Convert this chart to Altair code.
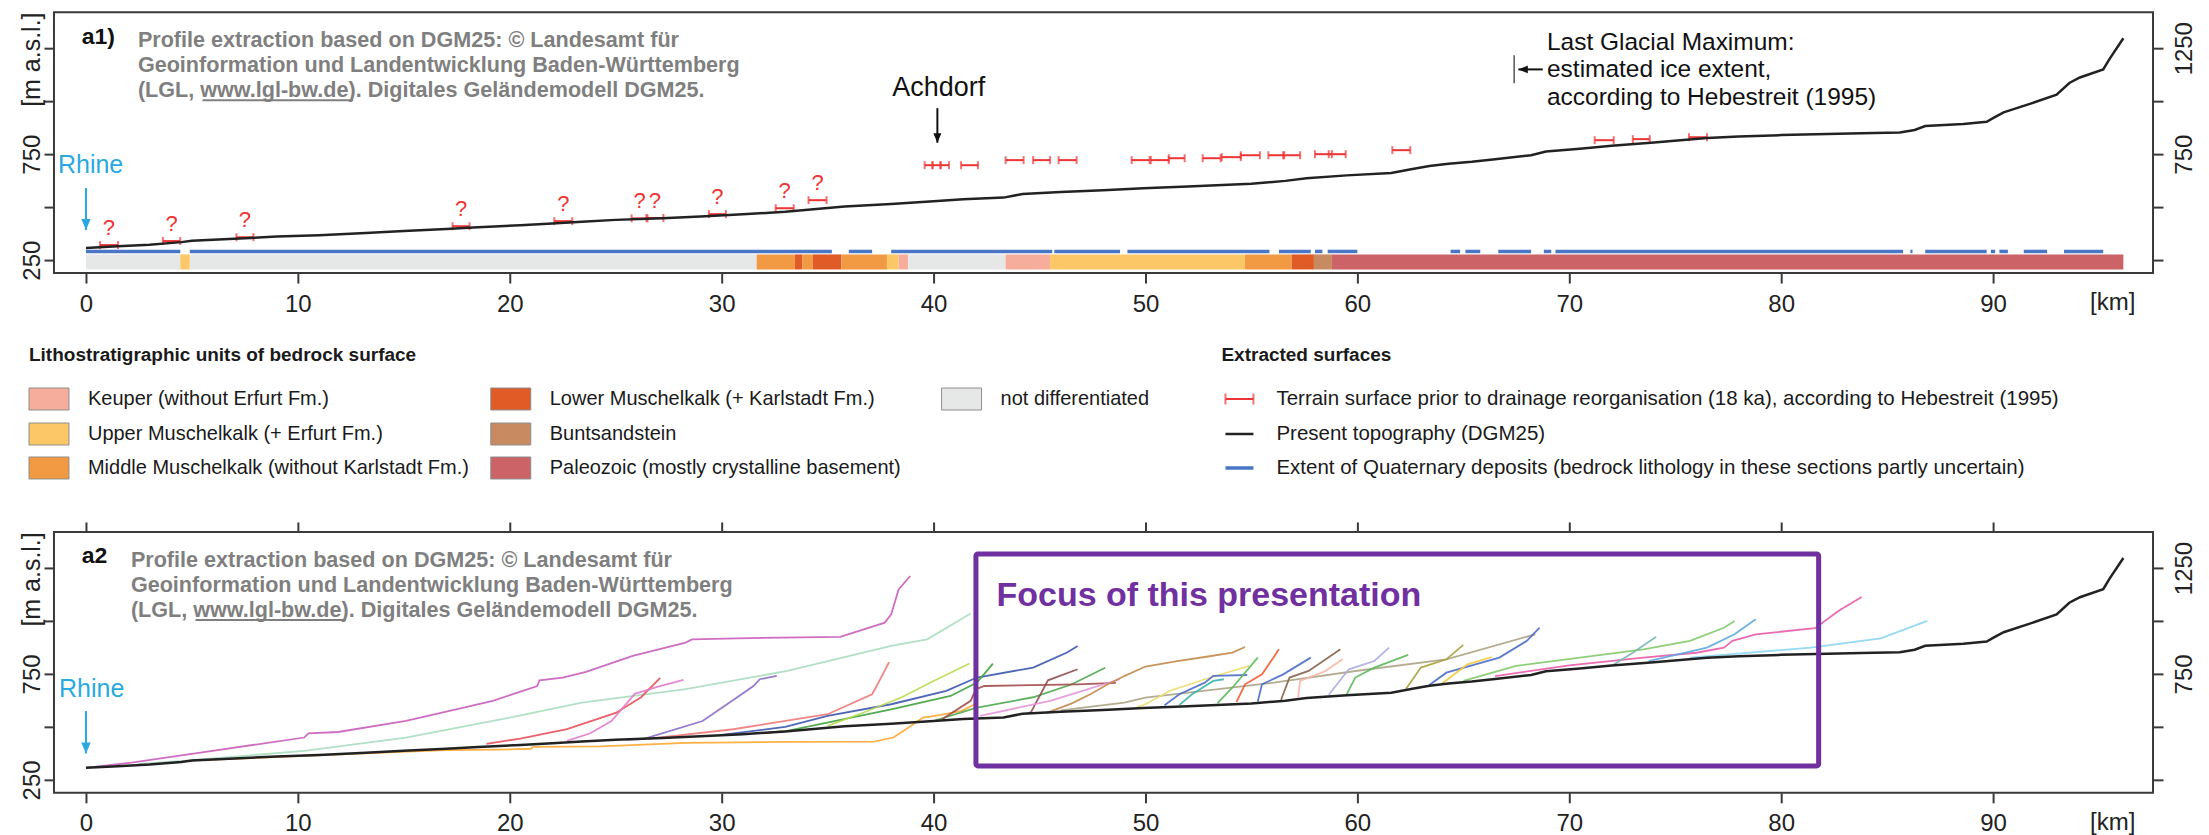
import altair as alt
import pandas as pd

FONT = "Liberation Sans, Arial, Helvetica, sans-serif"

# ------------------------------------------------------------------ data
# present topography (DGM25), distance from Rhine [km] / elevation [m a.s.l.]
topo_km = [0, 1.5, 3.0, 4.5, 5.0, 7.0, 9.0, 11.0, 13.2, 15.0, 17.0, 18.5, 20.5, 22.0, 23.4,
           25.0, 27.2, 29.0, 31.0, 33.0, 35.8, 38.0, 40.0, 41.4, 43.3, 44.2, 46.0, 48.0, 49.9,
           52.0, 55.0, 56.6, 57.6, 59.5, 61.6, 62.6, 63.4, 64.3, 65.4, 66.5, 68.2, 68.9, 70.5,
           72.0, 74.0, 76.5, 78.0, 80.0, 83.8, 85.6, 86.3, 86.8, 88.6, 89.7, 90.0, 90.5, 91.7,
           93.0, 93.6, 94.1, 95.2, 95.5, 96.15]
topo_m = [307, 315, 323, 335, 341, 351, 361, 368, 378, 387, 397, 405, 415, 423, 431,
          440, 448, 456, 466, 478, 503, 515, 528, 537, 545, 562, 572, 580, 589,
          598, 610, 624, 636, 650, 661, 680, 694, 705, 714, 726, 745, 763, 776,
          790, 805, 826, 833, 840, 849, 852, 864, 883, 892, 903, 920, 947, 986,
          1031, 1086, 1112, 1150, 1200, 1297]

litho_units = [
    "Keuper (without Erfurt Fm.)",
    "Upper Muschelkalk (+ Erfurt Fm.)",
    "Middle Muschelkalk (without Karlstadt Fm.)",
    "Lower Muschelkalk (+ Karlstadt Fm.)",
    "Buntsandstein",
    "Paleozoic (mostly crystalline basement)",
    "not differentiated",
]
litho_colors = ["#F6AD9B", "#FCC766", "#F29943", "#E05B26", "#C88A61", "#CC6367", "#E6E8E7"]

# bedrock surface units along the profile (index into litho_units)
band_start = [0, 4.45, 4.9, 31.65, 33.45, 33.8, 34.3, 35.65, 37.8, 38.35, 38.8, 43.4, 45.5,
              54.7, 56.9, 57.95, 58.8]
band_end = [4.45, 4.9, 31.65, 33.45, 33.8, 34.3, 35.65, 37.8, 38.35, 38.8, 43.4, 45.5, 54.7,
            56.9, 57.95, 58.8, 96.15]
band_unit = [6, 1, 6, 2, 3, 2, 3, 2, 1, 0, 6, 0, 1, 2, 3, 4, 5]

# extent of Quaternary deposits
quat_start = [0, 4.9, 36.0, 38.0, 45.7, 49.15, 56.3, 58.0, 58.6, 64.4, 65.1, 66.65, 68.8,
              69.35, 86.1, 86.8, 89.9, 90.3, 91.45, 93.35]
quat_end = [4.45, 35.2, 37.1, 45.6, 48.8, 55.85, 57.8, 58.35, 60.0, 64.85, 65.8, 68.2, 69.15,
            85.75, 86.2, 89.7, 90.1, 90.7, 92.55, 95.2]

# terrain surface prior to drainage reorganisation (18 ka), Hebestreit (1995)
terr_start = [0.66, 3.63, 7.1, 17.3, 22.1, 25.75, 26.45, 29.4, 32.55, 34.1, 39.58, 39.95,
              40.33, 41.3, 43.4, 44.7, 45.9, 49.35, 50.25, 51.1, 52.7, 53.6, 54.5, 55.8,
              56.5, 58.0, 58.65, 61.65, 71.2, 73.0, 75.65]
terr_end = [1.51, 4.45, 7.9, 18.1, 22.95, 26.5, 27.25, 30.2, 33.4, 34.95, 39.95, 40.33,
            40.73, 42.1, 44.25, 45.5, 46.75, 50.2, 51.1, 51.85, 53.55, 54.5, 55.4, 56.55,
            57.3, 58.8, 59.45, 62.5, 72.1, 73.8, 76.5]
terr_m = [321, 340, 358, 410, 434, 447, 449, 467, 495, 533, 698, 698, 698, 698, 722, 722,
          722, 722, 722, 731, 731, 736, 745, 745, 745, 750, 750, 769, 816, 821, 830]
terr_uncertain = [True] * 10 + [False] * 21

# tributary valley profiles (panel a2)
trib_colors = ["#C95DBB", "#A9DDBF", "#E8505A", "#E27DCB", "#FFA733", "#8A6CC9", "#F07878",
               "#3B57AE", "#3FA23F", "#4FA84F", "#B9D954", "#A24A4A", "#8F4F4F", "#E393D9",
               "#C38A4B", "#ABA384", "#E9DE74", "#4D6BC9", "#3AB2AA", "#5BBA5B", "#F25C32",
               "#4D6BC9", "#85634A", "#F8B5A5", "#ABABE2", "#5BBA5B", "#A9A23A", "#4D6BC9",
               "#F1CA3C", "#83C96B", "#E85BAA", "#7BB6B6", "#5AA9E1", "#8AD5F1"]
trib_km = [
    [0, 2.15, 5.4, 10.3, 10.5, 11.9, 15.1, 16.8, 19.2, 21.3, 21.4, 22.5, 23.6, 25.8, 28.3,
     28.6, 30.7, 35.6, 37.7, 38.0, 38.35, 38.9],
    [2.5, 4.55, 10.3, 15.1, 20.0, 23.4, 28.3, 33.1, 38.0, 39.7, 41.75],
    [18.9, 20.5, 22.7, 25.0, 26.2, 27.1],
    [22.7, 23.8, 24.8, 25.9, 27.0, 28.2],
    [6.0, 10.0, 14.0, 17.0, 19.5, 21.0, 21.1, 24.3, 28.3, 33.0, 37.2, 38.1, 38.7, 39.5, 40.2,
     41.3, 41.95],
    [25.5, 26.3, 29.1, 30.7, 31.5, 31.8, 32.6],
    [26.5, 30.55, 35.0, 37.1, 37.4, 37.9],
    [30.0, 33.0, 35.0, 38.0, 40.6, 42.05, 44.7, 46.3, 46.8],
    [32.0, 33.1, 38.0, 40.8, 42.05, 42.8],
    [40.0, 42.0, 44.7, 46.5, 48.1],
    [35.0, 36.7, 38.5, 40.0, 41.7],
    [40.4, 41.75, 42.0, 42.4, 46.8, 48.6],
    [44.4, 44.6, 45.4, 46.8],
    [42.2, 45.5, 48.8],
    [45.3, 46.5, 47.4, 48.2, 49.0, 50.0, 51.5, 52.8, 54.1, 54.7],
    [46.0, 49.0, 50.0, 56.05, 60.0, 64.2, 68.4],
    [49.6, 50.0, 51.15, 52.8, 54.9],
    [50.9, 51.6, 52.8, 53.2, 54.8],
    [51.6, 52.2, 53.2, 53.7],
    [53.4, 54.1, 55.3],
    [54.3, 54.7, 55.5, 56.3],
    [55.3, 55.5, 56.5, 57.8],
    [56.4, 56.8, 57.7, 59.2],
    [57.2, 57.3, 58.5, 59.3],
    [58.65, 59.6, 60.8, 61.5],
    [59.5, 59.9, 60.8, 62.4],
    [62.3, 63.0, 64.2, 65.0],
    [63.4, 64.2, 66.7, 68.0, 68.6],
    [64.0, 65.2, 66.35],
    [65.0, 67.5, 73.5, 75.7, 77.3, 77.8],
    [66.5, 70.0, 73.5, 76.0, 77.3, 77.7, 78.8, 81.6, 82.7, 83.8],
    [72.1, 73.0, 74.1],
    [73.75, 76.5, 77.8, 78.8],
    [75.7, 81.4, 84.7, 86.9],
]
trib_m = [
    [307, 332, 379, 450, 470, 476, 528, 568, 623, 693, 720, 733, 760, 835, 898, 913, 918,
     925, 992, 1031, 1149, 1212],
    [325, 340, 387, 450, 544, 615, 678, 764, 882, 913, 1035],
    [420, 445, 490, 566, 640, 731],
    [434, 470, 528, 656, 690, 722],
    [346, 362, 379, 391, 393, 397, 406, 408, 425, 429, 431, 450, 489, 544, 555, 575, 607],
    [440, 442, 528, 638, 693, 725, 741],
    [444, 489, 560, 654, 709, 806],
    [462, 500, 552, 607, 670, 733, 780, 851, 882],
    [472, 481, 583, 646, 709, 799],
    [528, 590, 640, 700, 779],
    [505, 568, 640, 717, 799],
    [536, 623, 678, 693, 701, 708],
    [562, 570, 720, 772],
    [552, 623, 725],
    [565, 610, 654, 700, 740, 785, 810, 830, 851, 877],
    [578, 615, 638, 709, 765, 819, 937],
    [594, 607, 670, 725, 788],
    [602, 654, 709, 741, 745],
    [604, 654, 717, 725],
    [612, 685, 827],
    [618, 701, 748, 866],
    [620, 701, 748, 827],
    [628, 733, 764, 866],
    [640, 717, 764, 819],
    [652, 772, 811, 874],
    [655, 733, 780, 840],
    [680, 780, 819, 887],
    [698, 756, 827, 906, 968],
    [705, 795, 830],
    [717, 788, 866, 906, 968, 1000],
    [740, 790, 827, 850, 874, 906, 937, 966, 1047, 1113],
    [795, 850, 925],
    [811, 874, 937, 1008],
    [827, 874, 918, 1000],
]

credit_lines = ["Profile extraction based on DGM25: \u00a9 Landesamt f\u00fcr",
                "Geoinformation und Landentwicklung Baden-W\u00fcrttemberg",
                "(LGL, www.lgl-bw.de). Digitales Gel\u00e4ndemodell DGM25."]
lgm_lines = ["Last Glacial Maximum:", "estimated ice extent,", "according to Hebestreit (1995)"]
extracted_labels = [
    "Terrain surface prior to drainage reorganisation (18 ka), according to Hebestreit (1995)",
    "Present topography (DGM25)",
    "Extent of Quaternary deposits (bedrock lithology in these sections partly uncertain)",
]
x_ticks = list(range(0, 100, 10))
y_ticks = [250, 500, 750, 1000, 1250]

# ------------------------------------------------------------------ layout / style
PANEL_W, PANEL_H, LEG_H = 2100, 261, 259
X_DOM, Y_DOM = [-1.51, 97.55], [189, 1420]
BAND_LO, BAND_HI, QUAT_Y = 206, 277, 291
RED, BLUE, PURPLE, GREY, RHINE = "#EE3535", "#4A76C6", "#7030A0", "#7F7F7F", "#29A9E0"
FRAME = "#3a3a3a"
DOWN = "M-0.85,-1L0.85,-1L0,1Z"
LEFT = "M1,-0.8L1,0.8L-1,0Z"

xsc = alt.Scale(domain=X_DOM, nice=False, zero=False)
ysc = alt.Scale(domain=Y_DOM, nice=False, zero=False)


def qx(f, axis=None):
    return alt.X(f, type="quantitative", scale=xsc, axis=axis)


def qy(f, axis=None):
    return alt.Y(f, type="quantitative", scale=ysc, axis=axis)


AX = dict(grid=False, domain=False, tickSize=10, tickWidth=2, tickColor=FRAME,
          labelFont=FONT, labelFontSize=24, labelColor="#222222",
          labelOverlap=False, labelFlush=False)
x_bottom = alt.Axis(orient="bottom", values=x_ticks, format="d", title=None,
                    labelPadding=9, **AX)
x_top = alt.Axis(orient="top", values=x_ticks, labels=False, title=None, **AX)
y_left = alt.Axis(orient="left", values=y_ticks, format="d",
                  labelExpr="(datum.value == 250 || datum.value == 750) ? datum.label : ''",
                  labelAngle=270, labelAlign="center", labelBaseline="alphabetic",
                  labelPadding=4, title="[m a.s.l.]", titleAngle=270, titleX=-22, titleY=47,
                  titleAlign="center", titleBaseline="middle", titleFont=FONT,
                  titleFontSize=25, titleFontWeight="normal", titleColor="#222222", **AX)
y_right = alt.Axis(orient="right", values=y_ticks, format="d",
                   labelExpr="(datum.value == 750 || datum.value == 1250) ? datum.label : ''",
                   labelAngle=270, labelAlign="center", labelBaseline="top",
                   labelPadding=9, title=None, **AX)

# ------------------------------------------------------------------ frames
topo_df = pd.DataFrame({"km": topo_km, "m": topo_m})
band_df = pd.DataFrame({"s": band_start, "e": band_end,
                        "color": [litho_colors[i] for i in band_unit],
                        "lo": BAND_LO, "hi": BAND_HI})
quat_df = pd.DataFrame({"s": quat_start, "e": quat_end, "y": QUAT_Y})
terr_df = pd.DataFrame({"s": terr_start, "e": terr_end, "m": terr_m, "q": terr_uncertain})
terr_df["mid"] = (terr_df["s"] + terr_df["e"]) / 2

rows = []
for k, (col, kms, ms) in enumerate(zip(trib_colors, trib_km, trib_m)):
    for i, (a, b) in enumerate(zip(kms, ms)):
        rows.append({"id": k, "i": i, "km": a, "m": b, "color": col})
trib_df = pd.DataFrame(rows)


def texts(df, **mark):
    return alt.Chart(df).mark_text(font=FONT, **mark).encode(
        x=qx("x"), y=qy("y"), text="t:N")


def arrow(x1, y1, x2, y2, color, width, shape, size, **off):
    line = alt.Chart(pd.DataFrame({"x": [x1], "x2": [x2], "y": [y1], "y2": [y2]})).mark_rule(
        color=color, strokeWidth=width).encode(x=qx("x"), x2="x2", y=qy("y"), y2="y2")
    head = alt.Chart(pd.DataFrame({"x": [x2], "y": [y2]})).mark_point(
        shape=shape, size=size, filled=True, color=color, opacity=1, **off).encode(
        x=qx("x"), y=qy("y"))
    return line + head


def common_texts(label, credit_x, credit_ul, rhine_x, rhine_y):
    lab = texts(pd.DataFrame({"x": [-0.2], "y": [1305], "t": [label]}),
                align="left", baseline="middle", fontSize=23, fontWeight="bold", color="#111111")
    cred = texts(pd.DataFrame({"x": [credit_x] * 3, "y": [1283, 1165, 1047], "t": credit_lines}),
                 align="left", baseline="middle", fontSize=21.6, fontWeight="bold", color=GREY)
    ul = alt.Chart(pd.DataFrame({"x": [credit_ul[0]], "x2": [credit_ul[1]], "y": [1005]})).mark_rule(
        color=GREY, strokeWidth=2).encode(x=qx("x"), x2="x2", y=qy("y"))
    rh = texts(pd.DataFrame({"x": [rhine_x], "y": [rhine_y], "t": ["Rhine"]}),
               align="left", baseline="middle", fontSize=25, color=RHINE)
    km = texts(pd.DataFrame({"x": [95.65], "y": [47.5], "t": ["[km]"]}),
               align="center", baseline="middle", fontSize=24, color="#222222")
    return [lab, cred, ul, rh, km]


# ------------------------------------------------------------------ panel a1
band = alt.Chart(band_df).mark_rect().encode(
    x=qx("s"), x2="e", y=qy("lo", y_right), y2="hi", color=alt.Color("color:N", scale=None))
quat = alt.Chart(quat_df).mark_rule(color=BLUE, strokeWidth=3.5).encode(
    x=qx("s"), x2="e", y=qy("y"))
topo1 = alt.Chart(topo_df).mark_line(color="#222222", strokeWidth=2.5).encode(
    x=qx("km", x_bottom), y=qy("m", y_left))
seg = alt.Chart(terr_df).mark_rule(color=RED, strokeWidth=2).encode(
    x=qx("s"), x2="e", y=qy("m"))
capl = alt.Chart(terr_df).mark_tick(color=RED, orient="vertical", size=8, thickness=2).encode(
    x=qx("s"), y=qy("m"))
capr = alt.Chart(terr_df).mark_tick(color=RED, orient="vertical", size=8, thickness=2).encode(
    x=qx("e"), y=qy("m"))
qm = alt.Chart(terr_df[terr_df["q"]]).mark_text(
    text="?", color=RED, fontSize=22, dy=-17, font=FONT).encode(x=qx("mid"), y=qy("m"))
achdorf = texts(pd.DataFrame({"x": [40.24], "y": [1061], "t": ["Achdorf"]}),
                align="center", baseline="middle", fontSize=27, color="#111111")
lgm = texts(pd.DataFrame({"x": [68.95] * 3, "y": [1275, 1145, 1016], "t": lgm_lines}),
            align="left", baseline="middle", fontSize=24.5, color="#111111")
lgm_bar = alt.Chart(pd.DataFrame({"x": [67.4], "y": [1085], "y2": [1217]})).mark_rule(
    color="#555555", strokeWidth=1.5).encode(x=qx("x"), y=qy("y"), y2="y2")

top = alt.layer(
    band, quat, seg, capl, capr, qm, topo1,
    *common_texts("a1)", 2.45, (5.5, 12.6), -1.32, 698),
    arrow(0, 590, 0, 392, RHINE, 2, DOWN, 120, yOffset=-5.5),
    achdorf,
    arrow(40.18, 967, 40.18, 804, "#111111", 2, DOWN, 90, yOffset=-4.7),
    lgm, lgm_bar,
    arrow(68.75, 1150, 67.6, 1150, "#111111", 2, LEFT, 90, xOffset=4.7),
).resolve_axis(x="independent", y="independent").properties(
    width=PANEL_W, height=PANEL_H, view=alt.ViewBackground(stroke=FRAME, strokeWidth=2))

# ------------------------------------------------------------------ legend block
lxs = alt.Scale(domain=[0, PANEL_W], nice=False, zero=False)
lys = alt.Scale(domain=[0, LEG_H], nice=False, zero=False, reverse=True)
COL_X, ROW_Y, TITLE_Y = [-25, 437, 888], [126, 161, 195], 82
BOX_W, BOX_H, LABEL_DX = 40, 22, 59
EX_X0, EX_X1, EX_LABEL, EX_TITLE = 1172, 1200, 1223, 1168


def lx(f):
    return alt.X(f, type="quantitative", scale=lxs, axis=None)


def ly(f):
    return alt.Y(f, type="quantitative", scale=lys, axis=None)


box_df = pd.DataFrame({
    "x": [COL_X[i // 3] for i in range(len(litho_units))],
    "y": [ROW_Y[i % 3] for i in range(len(litho_units))],
    "t": litho_units, "color": litho_colors})
box_df["x2"] = box_df["x"] + BOX_W
box_df["y1"] = box_df["y"] - BOX_H / 2
box_df["y2"] = box_df["y"] + BOX_H / 2
box_df["lx"] = box_df["x"] + LABEL_DX
ex_df = pd.DataFrame({"x": EX_X0, "x2": EX_X1, "lx": EX_LABEL, "y": ROW_Y,
                      "t": extracted_labels, "color": [RED, "#222222", BLUE],
                      "w": [2, 2.5, 3.5]})
title_df = pd.DataFrame({"x": [COL_X[0], EX_TITLE], "y": [TITLE_Y, TITLE_Y],
                         "t": ["Lithostratigraphic units of bedrock surface", "Extracted surfaces"]})

boxes = alt.Chart(box_df).mark_rect(stroke="#8e8e8e", strokeWidth=1).encode(
    x=lx("x"), x2="x2", y=ly("y1"), y2="y2", color=alt.Color("color:N", scale=None))
box_lab = alt.Chart(box_df).mark_text(align="left", baseline="middle", font=FONT, fontSize=20,
                                      color="#1a1a1a").encode(x=lx("lx"), y=ly("y"), text="t:N")
ex_sym = alt.Chart(ex_df).mark_rule().encode(
    x=lx("x"), x2="x2", y=ly("y"), color=alt.Color("color:N", scale=None),
    strokeWidth=alt.StrokeWidth("w:Q", scale=None))
ex_caps = alt.Chart(ex_df.iloc[:1].melt(id_vars=["y"], value_vars=["x", "x2"], value_name="cx")
                    ).mark_tick(color=RED, orient="vertical", size=11, thickness=2).encode(
    x=lx("cx"), y=ly("y"))
ex_lab = alt.Chart(ex_df).mark_text(align="left", baseline="middle", font=FONT, fontSize=20.5,
                                    color="#1a1a1a").encode(x=lx("lx"), y=ly("y"), text="t:N")
titles = alt.Chart(title_df).mark_text(align="left", baseline="middle", font=FONT, fontSize=19,
                                       fontWeight="bold", color="#1a1a1a").encode(
    x=lx("x"), y=ly("y"), text="t:N")

legend = alt.layer(boxes, box_lab, ex_sym, ex_caps, ex_lab, titles).properties(
    width=PANEL_W, height=LEG_H, view=alt.ViewBackground(stroke="transparent"))

# ------------------------------------------------------------------ panel a2
tribs = alt.Chart(trib_df).mark_line(strokeWidth=1.8, opacity=0.9).encode(
    x=qx("km"), y=qy("m"), detail="id:N", order="i:Q", color=alt.Color("color:N", scale=None))
topo2 = alt.Chart(topo_df).mark_line(color="#222222", strokeWidth=2.5).encode(
    x=qx("km", x_bottom), y=qy("m", y_left))
focus = alt.Chart(pd.DataFrame({"x": [42.0], "x2": [81.77], "y": [316], "y2": [1316]})).mark_rect(
    filled=False, stroke=PURPLE, strokeWidth=5, cornerRadius=2).encode(
    x=qx("x", x_top), x2="x2", y=qy("y", y_right), y2="y2")
focus_t = texts(pd.DataFrame({"x": [42.97], "y": [1118], "t": ["Focus of this presentation"]}),
                align="left", baseline="middle", fontSize=34, fontWeight="bold", color=PURPLE)

bottom = alt.layer(
    tribs, topo2, focus, focus_t,
    *common_texts("a2", 2.12, (5.17, 12.27), -1.27, 679),
    arrow(0, 575, 0, 375, RHINE, 2, DOWN, 120, yOffset=-5.5),
).resolve_axis(x="independent", y="independent").properties(
    width=PANEL_W, height=PANEL_H, view=alt.ViewBackground(stroke=FRAME, strokeWidth=2))

chart = alt.vconcat(top, legend, bottom, spacing=0, bounds="flush").resolve_scale(
    x="independent", y="independent").properties(
    padding={"left": 10, "top": 2, "right": 4, "bottom": 2}, background="white"
).configure(font=FONT)

chart.save("out.html", embed_options={"renderer": "svg", "actions": False})
